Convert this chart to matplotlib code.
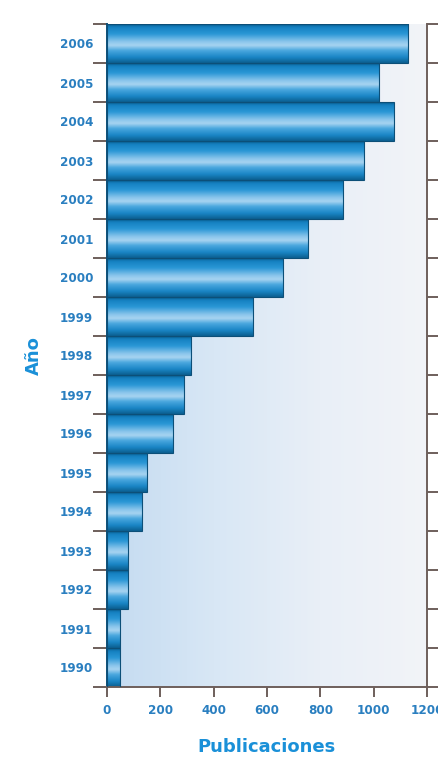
import numpy as np
import matplotlib
matplotlib.use("Agg")
import matplotlib.pyplot as plt
from matplotlib.colors import LinearSegmentedColormap

# Publications per year
years = ["1990", "1991", "1992", "1993", "1994", "1995", "1996", "1997", "1998",
         "1999", "2000", "2001", "2002", "2003", "2004", "2005", "2006"]
publications = [49, 49, 79, 79, 131, 150, 247, 289, 315,
                547, 660, 754, 885, 964, 1076, 1020, 1130]
x_ticks = [0, 200, 400, 600, 800, 1000, 1200]

label_blue = "#2a7fc0"
title_blue = "#1a90d8"
axis_grey = "#6e5f5b"

fig = plt.figure(figsize=(4.39, 7.58), dpi=100)
fig.patch.set_facecolor("white")
ax = fig.add_axes([107 / 439, 1 - 687 / 758, 320 / 439, 663 / 758])

n = len(years)
ax.set_xlim(0, 1200)
ax.set_ylim(-0.5, n - 0.5)

# soft blue background wash inside the plot area
bg = np.linspace(0, 1, 256)[None, :]
bg_cmap = LinearSegmentedColormap.from_list(
    "wash", ["#c4dbf1", "#d8e7f5", "#e9eff7", "#f2f4f8"])
ax.imshow(bg, cmap=bg_cmap, aspect="auto", extent=[0, 1200, -0.5, n - 0.5],
          zorder=0, interpolation="bicubic")

# cylinder-style shading for each bar
bar_cmap = LinearSegmentedColormap.from_list(
    "tube", [(0.0, "#0a5d8e"), (0.08, "#1581c2"), (0.25, "#2a97d6"),
             (0.45, "#8cc6ec"), (0.55, "#a7d4f1"), (0.68, "#4aa7de"),
             (0.85, "#1a86c6"), (1.0, "#0b5f90")])
shade = np.linspace(0, 1, 128)[:, None]
for i, v in enumerate(publications):
    ax.imshow(shade, cmap=bar_cmap, aspect="auto",
              extent=[0, v, i - 0.5, i + 0.5], zorder=2,
              interpolation="bicubic")
ax.barh(range(n), publications, height=1.0, left=0, facecolor="none",
        edgecolor="#0c4f78", linewidth=0.8, zorder=3)

# ticks and spines
ax.set_yticks(range(n))
ax.set_yticklabels(years)
ax.set_yticks(np.arange(-0.5, n, 1.0), minor=True)
ax.tick_params(axis="y", which="major", length=0, pad=10,
               labelcolor=label_blue, labelsize=9.5)
ax.tick_params(axis="y", which="minor", length=10, width=1.4,
               color=axis_grey, left=True, right=True,
               direction="out")
ax.set_xticks(x_ticks)
ax.tick_params(axis="x", which="major", length=7, width=1.4, color=axis_grey,
               labelcolor=label_blue, labelsize=9.5, pad=5)
for lab in ax.get_xticklabels() + ax.get_yticklabels():
    lab.set_fontweight("bold")
    lab.set_fontstretch("condensed")

for side in ["left", "bottom", "right"]:
    ax.spines[side].set_color(axis_grey)
    ax.spines[side].set_linewidth(1.4)
ax.spines["top"].set_visible(False)
ax.spines["left"].set_color("#0c4f78")

ax.set_xlabel("Publicaciones", fontsize=13, fontweight="bold",
              color=title_blue, labelpad=15)
ax.set_ylabel("Año", fontsize=13, fontweight="bold", color=title_blue,
              labelpad=12)

fig.savefig("out.png", dpi=100)
